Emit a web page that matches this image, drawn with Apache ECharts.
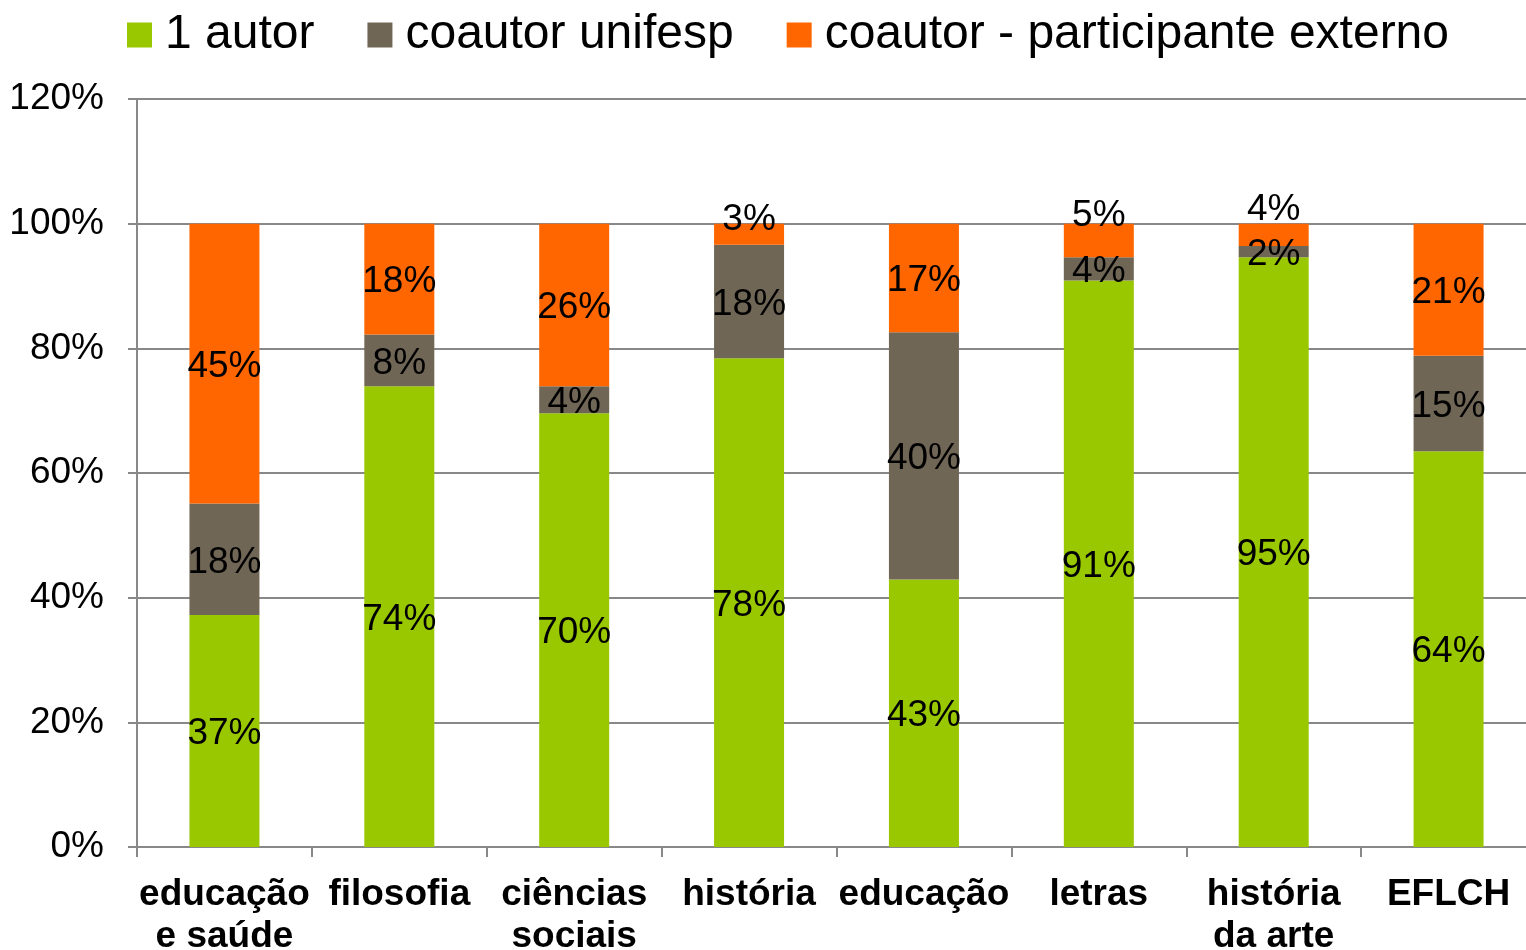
<!DOCTYPE html>
<html>
<head>
<meta charset="utf-8">
<script src="https://cdn.jsdelivr.net/npm/echarts@6/dist/echarts.min.js"></script>
<style>
  html, body { margin: 0; padding: 0; background: #fff; }
  #chart { width: 1526px; height: 950px; }
</style>
</head>
<body>
<div id="chart"></div>
<script>
const categories = ['educação\ne saúde', 'filosofia', 'ciências\nsociais', 'história', 'educação', 'letras', 'história\nda arte', 'EFLCH']
const umAutor = [37.2, 73.9, 69.6, 78.4, 42.9, 90.9, 94.6, 63.5]
const coautorUnifesp = [17.9, 8.3, 4.3, 18.2, 39.7, 3.7, 1.8, 15.3]
const coautorExterno = [44.9, 17.8, 26.1, 3.4, 17.4, 5.4, 3.6, 21.2]
const yTicks = [0, 20, 40, 60, 80, 100, 120]

// labels of the small top segments sit above the bar, as in the original
const topLabelOffset = { 3: -14, 5: -25, 6: -25 }

const FONT = '"Liberation Sans", Arial, sans-serif'

const chart = echarts.init(document.getElementById('chart'))

const labelStyle = {
  show: true,
  position: 'inside',
  offset: [0, 3],
  color: '#000',
  fontSize: 37,
  fontFamily: FONT,
  formatter: (p) => Math.round(p.value) + '%'
}

chart.setOption({
  animation: false,
  backgroundColor: '#fff',
  textStyle: { fontFamily: FONT },
  legend: {
    left: 122,
    top: 6,
    itemWidth: 25,
    itemHeight: 25,
    itemGap: 53,
    icon: 'rect',
    textStyle: { fontSize: 48, color: '#000', fontFamily: FONT, padding: [0, 0, 0, 8] },
    data: ['1 autor', 'coautor unifesp', 'coautor - participante externo']
  },
  grid: { left: 137, right: -10, top: 99, bottom: 103, outerBoundsMode: 'none', containLabel: false },
  xAxis: {
    type: 'category',
    data: categories,
    axisLine: { lineStyle: { color: '#888', width: 2 } },
    axisTick: { show: true, length: 10, lineStyle: { color: '#888', width: 2 } },
    axisLabel: {
      color: '#000',
      fontSize: 37,
      fontWeight: 'bold',
      fontFamily: FONT,
      lineHeight: 42,
      margin: 27,
      interval: 0
    }
  },
  yAxis: {
    type: 'value',
    min: yTicks[0],
    max: yTicks[yTicks.length - 1],
    interval: 20,
    axisLine: { show: true, lineStyle: { color: '#888', width: 2 } },
    axisTick: { show: true, length: 9, lineStyle: { color: '#888', width: 2 } },
    splitLine: { lineStyle: { color: '#888', width: 2 } },
    axisLabel: {
      color: '#000',
      fontSize: 37,
      fontFamily: FONT,
      margin: 33,
      padding: [4, 0, 0, 0],
      formatter: '{value}%'
    }
  },
  series: [
    {
      name: '1 autor',
      type: 'bar',
      stack: 'total',
      barWidth: 70,
      itemStyle: { color: '#99C800' },
      label: labelStyle,
      data: umAutor
    },
    {
      name: 'coautor unifesp',
      type: 'bar',
      stack: 'total',
      barWidth: 70,
      itemStyle: { color: '#706656' },
      label: labelStyle,
      data: coautorUnifesp
    },
    {
      name: 'coautor - participante externo',
      type: 'bar',
      stack: 'total',
      barWidth: 70,
      itemStyle: { color: '#FF6600' },
      label: labelStyle,
      data: coautorExterno.map((v, i) => topLabelOffset[i] !== undefined
        ? { value: v, label: { offset: [0, topLabelOffset[i]] } }
        : v)
    }
  ]
})

window.addEventListener('resize', () => chart.resize())
</script>
</body>
</html>
